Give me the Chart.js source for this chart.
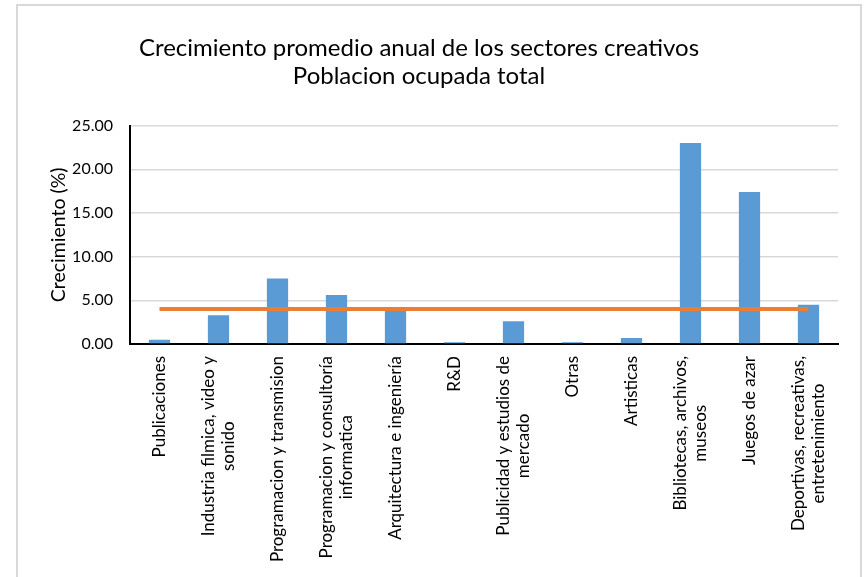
<!DOCTYPE html>
<html>
<head>
<meta charset="utf-8">
<script src="https://cdn.jsdelivr.net/npm/chart.js@4"></script>
<style>
  body { margin: 0; background: #fff; }
  #wrap { position: relative; width: 864px; height: 577px; overflow: hidden; }
  #frame { position: absolute; left: 16px; top: 4px; width: 842px; height: 620px; border: 2px solid #d9d9d9; }
  #box { position: absolute; left: 0; top: 0; width: 864px; height: 577px; }
</style>
</head>
<body>
<div id="wrap">
  <div id="frame"></div>
  <div id="box"><canvas id="chart"></canvas></div>
</div>
<script>
// Sectores creativos
const sectores = [
  'Publicaciones',
  ['Industria filmica, video y', 'sonido'],
  'Programacion y transmision',
  ['Programacion y consultoría', 'informatica'],
  'Arquitectura e ingeniería',
  'R&D',
  ['Publicidad y estudios de', 'mercado'],
  'Otras',
  'Artisticas',
  ['Bibliotecas, archivos,', 'museos'],
  'Juegos de azar',
  ['Deportivas, recreativas,', 'entretenimiento']
];

// crecimiento promedio anual (%)
const crecimiento = [0.5, 3.3, 7.5, 5.6, 4.1, 0.2, 2.6, 0.2, 0.7, 23.0, 17.4, 4.5];

// promedio total
const promedio = [4.0, 4.0, 4.0, 4.0, 4.0, 4.0, 4.0, 4.0, 4.0, 4.0, 4.0, 4.0];

const yTicks = [0, 5, 10, 15, 20, 25];

Chart.defaults.font.family = 'Lato';
Chart.defaults.color = '#000';

// labels del eje x: rotadas y con lineas centradas
const xLabels = {
  id: 'xLabels',
  afterDraw(c) {
    const ctx = c.ctx;
    const sx = c.scales.x;
    ctx.save();
    ctx.font = '17px Lato';
    ctx.fillStyle = '#000';
    ctx.textAlign = 'center';
    ctx.textBaseline = 'middle';
    sectores.forEach((lab, i) => {
      const lines = Array.isArray(lab) ? lab : [lab];
      const w = Math.max(...lines.map(l => ctx.measureText(l).width));
      ctx.save();
      ctx.translate(sx.getPixelForTick(i), sx.top + 12);
      ctx.rotate(-Math.PI / 2);
      lines.forEach((l, k) => {
        ctx.fillText(l, -w / 2, (k - (lines.length - 1) / 2) * 20);
      });
      ctx.restore();
    });
    ctx.restore();
  }
};

const chart = document.querySelector('#chart').getContext('2d');

new Chart(chart, {
  type: 'bar',
  data: {
    labels: sectores,
    datasets: [
      {
        type: 'line',
        label: 'Promedio',
        data: promedio,
        borderColor: '#ED7D31',
        borderWidth: 4,
        pointRadius: 0,
        order: 0
      },
      {
        label: 'Crecimiento',
        data: crecimiento,
        backgroundColor: '#5B9BD5',
        categoryPercentage: 1,
        barPercentage: 0.36,
        order: 1
      }
    ]
  },
  options: {
    responsive: true,
    maintainAspectRatio: false,
    animation: false,
    layout: { padding: { left: 0, right: 26, top: 0, bottom: 0 } },
    plugins: {
      legend: { display: false },
      tooltip: { enabled: false },
      title: {
        display: true,
        text: ['Crecimiento promedio anual de los sectores creativos', 'Poblacion ocupada total'],
        font: { size: 24, weight: 'normal' },
        lineHeight: 1.3,
        color: '#000',
        padding: { top: 33.5, bottom: 34.5 }
      }
    },
    scales: {
      x: {
        grid: { display: false },
        border: { display: true, color: '#000', width: 2 },
        ticks: { display: false },
        afterFit(s) { s.height = 233; }
      },
      y: {
        min: 0,
        max: 25,
        afterBuildTicks(s) { s.ticks = yTicks.map(v => ({ value: v })); },
        ticks: {
          padding: 17,
          font: { size: 16 },
          callback: v => v.toFixed(2)
        },
        grid: { color: '#d9d9d9', lineWidth: 1.5, drawTicks: false },
        border: { display: true, color: '#000', width: 2 },
        title: {
          display: true,
          text: 'Crecimiento (%)',
          font: { size: 19.5 },
          padding: { top: 47, bottom: 0 }
        },
        afterFit(s) { s.width = 130; }
      }
    }
  },
  plugins: [xLabels]
});
</script>
</body>
</html>
